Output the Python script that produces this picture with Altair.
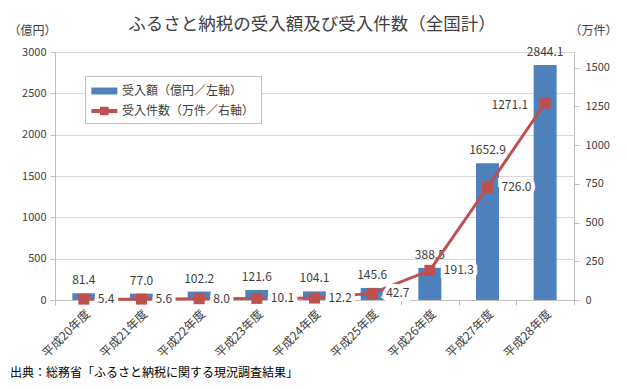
import altair as alt
import pandas as pd

years = ["平成20年度", "平成21年度", "平成22年度", "平成23年度", "平成24年度",
         "平成25年度", "平成26年度", "平成27年度", "平成28年度"]
amount = [81.4, 77.0, 102.2, 121.6, 104.1, 145.6, 388.5, 1652.9, 2844.1]
count = [5.4, 5.6, 8.0, 10.1, 12.2, 42.7, 191.3, 726.0, 1271.1]
series = ["受入額（億円／左軸）", "受入件数（万件／右軸）"]
left_ticks = [0, 500, 1000, 1500, 2000, 2500, 3000]
right_ticks = [0, 250, 500, 750, 1000, 1250, 1500]
title_text = "ふるさと納税の受入額及び受入件数（全国計）"
source_text = "出典：総務省「ふるさと納税に関する現況調査結果」"

FONT = "Noto Sans CJK JP"
BLUE = "#4F81BD"
RED = "#C0504D"
TXT = "#404040"
AX = "#bfbfbf"

df = pd.DataFrame({"year": years, "amount": amount, "count": count})
leg_df = pd.DataFrame({"series": series})
src_df = pd.DataFrame({"t": [source_text]})
ttl_df = pd.DataFrame({"t": [title_text]})

base = alt.Chart(df)

xenc = alt.X("year:N", sort=years,
             scale=alt.Scale(paddingInner=0, paddingOuter=0),
             axis=alt.Axis(title=None, labelAngle=-45, tickBand="extent", grid=False,
                           domainColor=AX, tickColor=AX, tickSize=5,
                           labelFontSize=12, labelColor=TXT, labelPadding=3))

yL = alt.Y("amount:Q", scale=alt.Scale(domain=[0, 3000]),
           axis=alt.Axis(values=left_ticks, format="d", title="（億円）", titleAngle=0,
                         titleX=-23, titleY=-22, titleAlign="center", titleBaseline="middle",
                         titleFontSize=12, titleFontWeight="normal", titleColor=TXT,
                         grid=True, gridColor="#d9d9d9", domainColor=AX, tickColor=AX,
                         tickSize=5, labelFontSize=11, labelColor=TXT, labelPadding=4))

yR = alt.Y("count:Q", scale=alt.Scale(domain=[0, 1500]),
           axis=alt.Axis(orient="right", values=right_ticks, format="d", title="（万件）",
                         titleAngle=0, titleX=19, titleY=-22, titleAlign="center",
                         titleBaseline="middle", titleFontSize=12, titleFontWeight="normal",
                         titleColor=TXT, grid=False, domainColor=AX, tickColor=AX,
                         tickSize=5, labelFontSize=11, labelColor=TXT, labelPadding=6))

bars = base.mark_bar(color=BLUE, width=23).encode(x=xenc, y=yL)
bar_labels = base.mark_text(baseline="bottom", dy=-6, fontSize=12, color=TXT, font=FONT).encode(
    x=alt.X("year:N", sort=years), y="amount:Q",
    text=alt.Text("amount:Q", format=".1f"))

rect_path = "M-1,-0.4H2V0.4H-1Z"
line_path = "M-1,-0.22H0V-0.5H1V-0.22H2V0.22H1V0.5H0V0.22H-1Z"
leg = dict(orient="none", legendX=30, legendY=24, title=None, strokeColor=AX,
           fillColor="white", padding=6, symbolSize=300, symbolOpacity=1,
           symbolStrokeWidth=0, labelFont=FONT, labelFontSize=12, labelColor=TXT,
           rowPadding=5, labelOffset=13)
legend_layer = alt.Chart(leg_df).mark_point(filled=True, opacity=0).encode(
    color=alt.Color("series:N", scale=alt.Scale(domain=series, range=[BLUE, RED]),
                    legend=alt.Legend(**leg)),
    shape=alt.Shape("series:N", scale=alt.Scale(domain=series, range=[rect_path, line_path]),
                    legend=alt.Legend(**leg)))

source = alt.Chart(src_df).mark_text(align="left", baseline="middle", fontSize=12,
                                     color="#000000", font=FONT).encode(
    x=alt.value(-45), y=alt.value(321), text="t:N")

title = alt.Chart(ttl_df).mark_text(align="center", baseline="middle", fontSize=17.5,
                                    color=TXT, font=FONT).encode(
    x=alt.value(257), y=alt.value(-27), text="t:N")

left = alt.layer(bars, bar_labels, legend_layer, source, title)

xr = alt.X("year:N", sort=years)
line = base.mark_line(color=RED, strokeWidth=3).encode(x=xr, y=yR)
pts = base.mark_point(shape="square", filled=True, color=RED, size=120, opacity=1).encode(x=xr, y="count:Q")

last = years[-1]
right_df = base.transform_filter(f"datum.year != '{last}'")
left_df = base.transform_filter(f"datum.year == '{last}'")
tx = alt.Text("count:Q", format=".1f")
halo_r = right_df.mark_text(align="left", baseline="middle", dx=14, fontSize=12, font=FONT,
                            stroke="white", strokeWidth=8, color="white").encode(x=xr, y="count:Q", text=tx)
lab_r = right_df.mark_text(align="left", baseline="middle", dx=14, fontSize=12, font=FONT,
                           color=TXT).encode(x=xr, y="count:Q", text=tx)
halo_l = left_df.mark_text(align="right", baseline="middle", dx=-17, dy=2, fontSize=12, font=FONT,
                           stroke="white", strokeWidth=8, color="white").encode(x=xr, y="count:Q", text=tx)
lab_l = left_df.mark_text(align="right", baseline="middle", dx=-17, dy=2, fontSize=12, font=FONT,
                          color=TXT).encode(x=xr, y="count:Q", text=tx)

rightl = alt.layer(line, pts, halo_r, lab_r, halo_l, lab_l)

chart = alt.layer(left, rightl).resolve_scale(y="independent").properties(
    width=519, height=248,
    padding={"left": 47, "top": 44, "right": 44, "bottom": 81},
    autosize=alt.AutoSizeParams(type="none"),
    background="white",
).configure_view(stroke=None).configure_axis(labelFont=FONT, titleFont=FONT)

chart.save("out.html", embed_options={"renderer": "svg", "actions": False})
